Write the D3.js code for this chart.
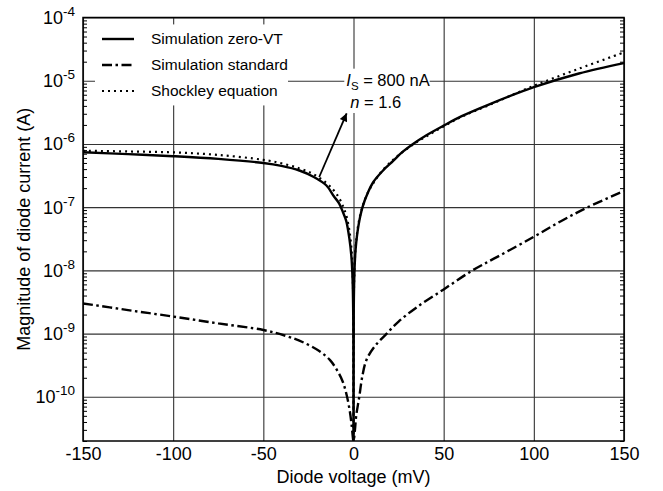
<!DOCTYPE html>
<html>
<head>
<meta charset="utf-8">
<script src="https://cdn.jsdelivr.net/npm/d3@7"></script>
<style>
  body { margin: 0; background: #fff; }
  svg { font-family: 'Liberation Sans', Arial, Helvetica, sans-serif; }
  .grid line { stroke: #333; stroke-width: 1.1; }
  .grid path { display: none; }
  .minor line { stroke: #000; stroke-width: 1; }
  .minor path { display: none; }
  .tick-label { font-size: 18px; fill: #000; }
  .axis-title { font-size: 18px; fill: #000; }
  .legend-label { font-size: 15.5px; fill: #000; }
  .note { font-size: 16.5px; fill: #000; }
  .curve { fill: none; stroke: #000; }
</style>
</head>
<body>
<svg></svg>
<script>
/* global d3:true */

// voltages (mV) used for the zero-VT simulation and the Shockley curve
const voltage = [-150, -125, -100, -75, -50, -40, -30, -22, -15, -11, -8, -5.6, -4, -2.3, -1.2, -0.5, -0.15,
  0, 0.15, 0.5, 1.2, 2.7, 5, 8, 11, 16, 22, 27, 33, 40, 50, 60, 75, 100, 125, 150]

// |I| (A), simulation zero-VT (solid)
const zeroVt = [7.4e-7, 6.9e-7, 6.4e-7, 5.8e-7, 5.0e-7, 4.5e-7, 3.8e-7, 3.0e-7, 2.2e-7, 1.5e-7, 1.15e-7, 8e-8, 6e-8, 3.2e-8, 1.7e-8, 7e-9, 2e-9,
  2e-11, 2.5e-9, 9e-9, 2.2e-8, 5e-8, 1e-7, 1.7e-7, 2.5e-7, 3.7e-7, 5.4e-7, 7.4e-7, 1.0e-6, 1.35e-6, 1.95e-6, 2.75e-6, 4.2e-6, 7.9e-6, 1.3e-5, 1.9e-5]

// |I| (A), Shockley equation (dotted)
const shockley = [7.8e-7, 7.6e-7, 7.35e-7, 6.7e-7, 5.6e-7, 4.95e-7, 4.1e-7, 3.3e-7, 2.4e-7, 1.85e-7, 1.4e-7, 1.0e-7, 7.4e-8, 4.3e-8, 2.3e-8, 9.6e-9, 2.9e-9,
  2e-11, 2.9e-9, 9.7e-9, 2.35e-8, 5.4e-8, 1.03e-7, 1.7e-7, 2.4e-7, 3.8e-7, 5.6e-7, 7.35e-7, 9.8e-7, 1.3e-6, 1.9e-6, 2.7e-6, 4.1e-6, 8.3e-6, 1.55e-5, 2.8e-5]

// voltages (mV) and |I| (A) for the standard simulation (dash-dot)
const stdVoltage = [-150, -125, -100, -75, -50, -37, -28, -19, -13, -9, -6, -3.8, -2, -1,
  0, 0.8, 1.5, 3.2, 5, 7.3, 12, 18.4, 25, 35, 50, 66, 80, 100, 115, 130, 150]
const standard = [3.0e-9, 2.35e-9, 1.86e-9, 1.45e-9, 1.14e-9, 9.1e-10, 7.3e-10, 5.3e-10, 3.8e-10, 2.6e-10, 1.75e-10, 1.07e-10, 5.8e-11, 3.5e-11,
  2e-11, 3e-11, 5e-11, 1e-10, 2.2e-10, 3.9e-10, 6.4e-10, 1e-9, 1.55e-9, 2.6e-9, 5.0e-9, 1e-8, 1.65e-8, 3.4e-8, 6e-8, 1e-7, 1.8e-7]

const xTicks = [-150, -100, -50, 0, 50, 100, 150]
const yExponents = [-4, -5, -6, -7, -8, -9, -10]
const legendLabels = ['Simulation zero-VT', 'Simulation standard', 'Shockley equation']

const app = () => {
  const w = 663
  const h = 491
  const left = 83
  const right = 624
  const top = 17.5
  const bottom = 441

  const svg = d3.select('svg')
    .attr('width', w)
    .attr('height', h)

  const xScale = d3.scaleLinear().domain([-150, 150]).range([left, right])
  const yScale = d3.scaleLog().domain([2e-11, 1e-4]).range([bottom, top]).clamp(true)
  const decades = yExponents.map((e) => Math.pow(10, e))

  const defs = svg.append('defs')
  defs.append('clipPath')
    .attr('id', 'plot-clip')
    .append('rect')
    .attr('x', left)
    .attr('y', top)
    .attr('width', right - left)
    .attr('height', bottom - top)

  // grid lines
  svg.append('g')
    .attr('class', 'grid')
    .attr('transform', `translate(0, ${bottom})`)
    .call(d3.axisBottom(xScale).tickValues(xTicks).tickSize(-(bottom - top)).tickFormat(''))

  svg.append('g')
    .attr('class', 'grid')
    .attr('transform', `translate(${left}, 0)`)
    .call(d3.axisLeft(yScale).tickValues(decades).tickSize(-(right - left)).tickFormat(''))

  // minor log ticks on left and right, pointing inward
  const minor = yScale.ticks().filter((v) => {
    const m = Math.round(v / Math.pow(10, Math.floor(Math.log10(v) + 1e-9)))
    return m !== 1
  })

  svg.append('g')
    .attr('class', 'minor')
    .attr('transform', `translate(${left}, 0)`)
    .call(d3.axisLeft(yScale).tickValues(minor).tickSize(-4).tickFormat(''))

  svg.append('g')
    .attr('class', 'minor')
    .attr('transform', `translate(${right}, 0)`)
    .call(d3.axisRight(yScale).tickValues(minor).tickSize(-4).tickFormat(''))

  // x tick labels (plain hyphen for negatives)
  const xAxis = svg.append('g')
    .attr('transform', `translate(0, ${bottom})`)
    .call(d3.axisBottom(xScale).tickValues(xTicks).tickSize(0).tickPadding(6).tickFormat((d) => String(d)))
  xAxis.select('.domain').remove()
  xAxis.selectAll('text')
    .attr('class', 'tick-label')
    .attr('font-size', null)
    .attr('font-family', null)

  // y tick labels with superscript exponents
  const yLabels = svg.append('g')
    .selectAll('text')
    .data(yExponents)
    .enter()
    .append('text')
    .attr('class', 'tick-label')
    .attr('text-anchor', 'end')
    .attr('x', left - 8)
    .attr('y', (d) => yScale(Math.pow(10, d)))
    .attr('dy', '0.36em')
  yLabels.append('tspan').text('10')
  yLabels.append('tspan')
    .attr('dy', -8)
    .attr('font-size', 13.5)
    .text((d) => d)

  // axis titles
  svg.append('text')
    .attr('class', 'axis-title')
    .attr('text-anchor', 'middle')
    .attr('x', (left + right) / 2)
    .attr('y', 483)
    .text('Diode voltage (mV)')

  svg.append('text')
    .attr('class', 'axis-title')
    .attr('text-anchor', 'middle')
    .attr('transform', `translate(30, ${(top + bottom) / 2})rotate(-90)`)
    .text('Magnitude of diode current (A)')

  // legend with white backing
  const legend = svg.append('g')
  const legendBg = legend.append('rect').attr('fill', '#fff')
  const legendStyles = [
    { dash: null, width: 2.4 },
    { dash: '10,3.5,2.5,3.5', width: 2.4 },
    { dash: '2,4', width: 2.2 }
  ]
  legendLabels.forEach((label, i) => {
    const ly = 39 + i * 26
    legend.append('line')
      .attr('x1', 102)
      .attr('x2', 134)
      .attr('y1', ly)
      .attr('y2', ly)
      .attr('stroke', '#000')
      .attr('stroke-width', legendStyles[i].width)
      .attr('stroke-dasharray', legendStyles[i].dash)
    legend.append('text')
      .attr('class', 'legend-label')
      .attr('x', 151)
      .attr('y', ly)
      .attr('dy', '0.35em')
      .text(label)
  })
  const lb = legend.node().getBBox()
  legendBg
    .attr('x', 95)
    .attr('y', lb.y - 6)
    .attr('width', 288 - 95)
    .attr('height', lb.height + 12)

  // annotation: Is and n, with an arrow pointing from the curve
  const note = svg.append('g')
  const noteBg = note.append('rect').attr('fill', '#fff')
  const isText = note.append('text')
    .attr('class', 'note')
    .attr('x', xScale(-4))
    .attr('y', yScale(1e-5))
    .attr('dy', '0.3em')
  isText.append('tspan').attr('font-style', 'italic').text('I')
  isText.append('tspan').attr('font-size', 11.5).attr('dy', 4).text('S')
  isText.append('tspan').attr('dy', -4).text(' = 800 nA')

  const nText = note.append('text')
    .attr('class', 'note')
    .attr('x', xScale(-1.8))
    .attr('y', yScale(3.7e-6))
  nText.append('tspan').attr('font-style', 'italic').text('n')
  nText.append('tspan').text(' = 1.6')

  const nb = note.node().getBBox()
  noteBg
    .attr('x', nb.x - 2)
    .attr('y', nb.y - 2)
    .attr('width', nb.width + 2)
    .attr('height', nb.height + 4)

  defs.append('marker')
    .attr('id', 'head')
    .attr('viewBox', '0 0 10 10')
    .attr('refX', 10)
    .attr('refY', 5)
    .attr('markerUnits', 'userSpaceOnUse')
    .attr('markerWidth', 11)
    .attr('markerHeight', 8)
    .attr('orient', 'auto')
    .append('path')
    .attr('d', 'M0,0L10,5L0,10Z')
    .attr('fill', '#000')

  svg.append('line')
    .attr('x1', xScale(-19))
    .attr('y1', yScale(3.0e-7))
    .attr('x2', xScale(-3.8))
    .attr('y2', yScale(3.05e-6))
    .attr('stroke', '#000')
    .attr('stroke-width', 1.8)
    .attr('marker-end', 'url(#head)')

  // curves
  const line = d3.line()
    .curve(d3.curveCatmullRom.alpha(0.5))
    .x((d) => xScale(d[0]))
    .y((d) => yScale(d[1]))

  const curves = svg.append('g').attr('clip-path', 'url(#plot-clip)')

  curves.append('path')
    .datum(d3.zip(voltage, shockley))
    .attr('class', 'curve')
    .attr('stroke-width', 2.2)
    .attr('stroke-dasharray', '2,4')
    .attr('d', line)

  curves.append('path')
    .datum(d3.zip(stdVoltage, standard))
    .attr('class', 'curve')
    .attr('stroke-width', 2.4)
    .attr('stroke-dasharray', '10,3.5,2.5,3.5')
    .attr('d', line)

  curves.append('path')
    .datum(d3.zip(voltage, zeroVt))
    .attr('class', 'curve')
    .attr('stroke-width', 2.4)
    .attr('d', line)

  // plot frame
  svg.append('rect')
    .attr('x', left)
    .attr('y', top)
    .attr('width', right - left)
    .attr('height', bottom - top)
    .attr('fill', 'none')
    .attr('stroke', '#000')
    .attr('stroke-width', 1.5)
}

app()
</script>
</body>
</html>
